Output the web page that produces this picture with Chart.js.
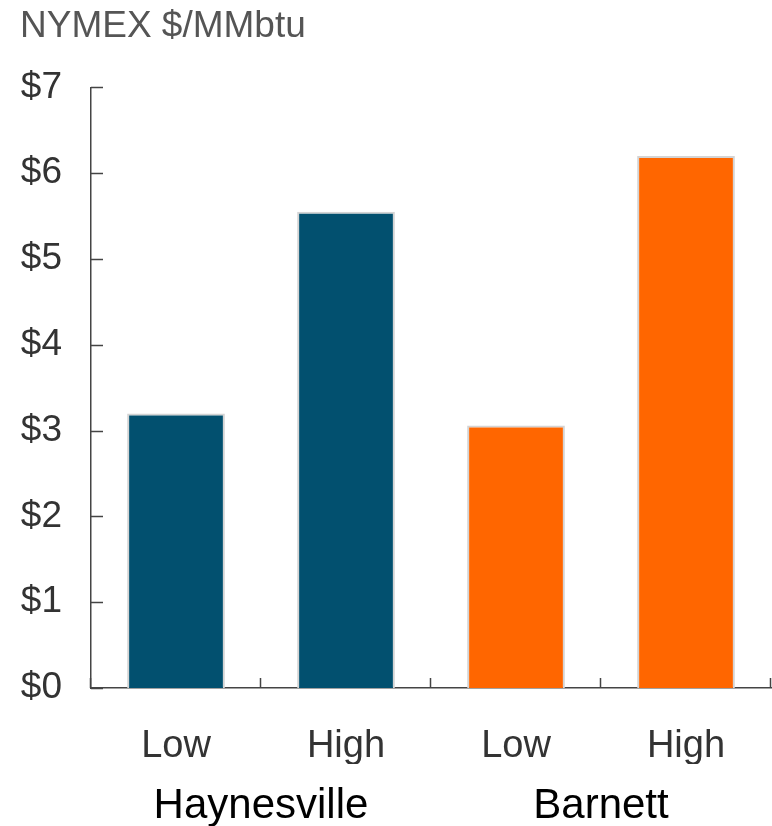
<!DOCTYPE html>
<html>
<head>
<meta charset="utf-8">
<script src="https://cdn.jsdelivr.net/npm/chart.js@4"></script>
<style>
  html, body { margin: 0; padding: 0; background: #fff; }
  #wrap { width: 772px; height: 826px; }
</style>
</head>
<body>
<div id="wrap"><canvas id="priceChart"></canvas></div>
<script>
const categories = ["Low", "High", "Low", "High"];
const groups = ["Haynesville", "Barnett"];
const prices = [3.2, 5.55, 3.06, 6.2];
const barColors = ["#02506f", "#02506f", "#ff6600", "#ff6600"];
const yTickValues = [0, 1, 2, 3, 4, 5, 6, 7];

const FONT = "'Liberation Sans', Arial, sans-serif";

// tick marks pointing into the plot, like the original
const inwardTicks = {
  id: "inwardTicks",
  afterDatasetsDraw(chart) {
    const { ctx, chartArea, scales } = chart;
    ctx.save();
    ctx.strokeStyle = "#444";
    ctx.lineWidth = 1.5;
    ctx.beginPath();
    yTickValues.forEach(v => {
      const py = Math.round(scales.y.getPixelForValue(v)) + 0.5;
      ctx.moveTo(chartArea.left, py);
      ctx.lineTo(chartArea.left + 12, py);
    });
    for (let i = 0; i <= categories.length; i++) {
      const px = Math.round(scales.x.getPixelForValue(i - 0.5)) - 0.5;
      ctx.moveTo(px, chartArea.bottom);
      ctx.lineTo(px, chartArea.bottom - 10);
    }
    ctx.stroke();
    ctx.restore();
  }
};

new Chart(document.getElementById("priceChart"), {
  type: "bar",
  data: {
    labels: categories,
    datasets: [{
      data: prices,
      backgroundColor: barColors,
      borderColor: "#d4d4d4",
      borderWidth: 2,
      barPercentage: 0.575,
      categoryPercentage: 1.0
    }]
  },
  options: {
    responsive: true,
    maintainAspectRatio: false,
    animation: false,
    layout: { padding: { left: 20, right: 1, top: 0, bottom: 0 } },
    plugins: {
      legend: { display: false },
      tooltip: { enabled: false },
      title: {
        display: true,
        text: "NYMEX $/MMbtu",
        align: "start",
        color: "#555",
        font: { family: FONT, size: 37, weight: "normal", lineHeight: 1.2 },
        padding: { top: 5, bottom: 38 }
      }
    },
    scales: {
      y: {
        min: 0,
        max: 7,
        ticks: {
          stepSize: 1,
          color: "#333",
          padding: 29,
          font: { family: FONT, size: 37 },
          callback: v => "$" + v
        },
        grid: { display: false, drawTicks: false },
        border: { display: true, color: "#444", width: 1.5 },
        afterFit: s => { s.width = 71; }
      },
      x: {
        offset: true,
        ticks: {
          color: "#333",
          padding: 40,
          font: { family: FONT, size: 38, lineHeight: 1.0 }
        },
        grid: { display: false, drawTicks: false },
        border: { display: true, color: "#444", width: 1.5 },
        afterFit: s => { s.height = 76; }
      },
      x2: {
        type: "category",
        labels: groups,
        position: "bottom",
        weight: 1,
        offset: true,
        ticks: {
          color: "#000",
          padding: 21,
          font: { family: FONT, size: 42, lineHeight: 1.0 }
        },
        grid: { display: false, drawTicks: false },
        border: { display: false },
        afterFit: s => { s.height = 62; }
      }
    }
  },
  plugins: [inwardTicks]
});
</script>
</body>
</html>
